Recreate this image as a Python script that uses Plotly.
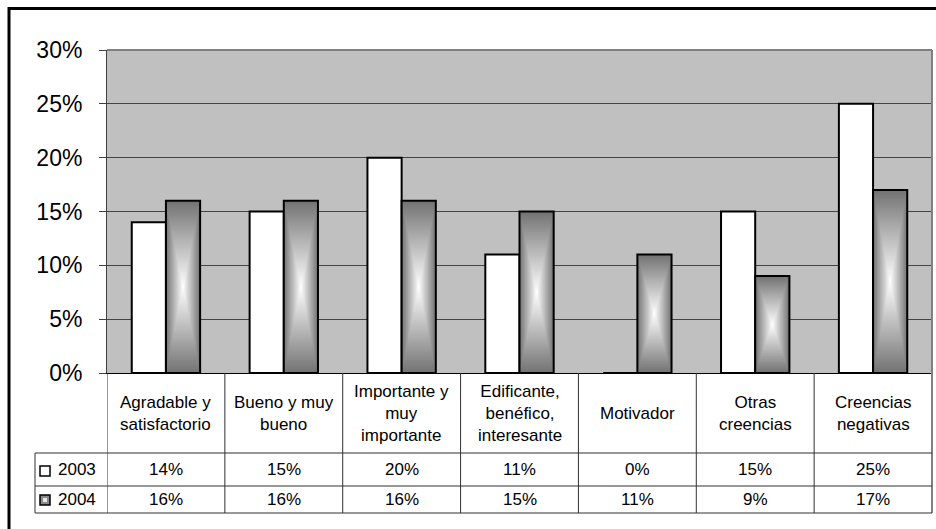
import plotly.graph_objects as go

# Chart data
categories = [
    "Agradable y<br>satisfactorio",
    "Bueno y muy<br>bueno",
    "Importante y<br>muy<br>importante",
    "Edificante,<br>benéfico,<br>interesante",
    "Motivador",
    "Otras<br>creencias",
    "Creencias<br>negativas",
]
series_names = ["2003", "2004"]
values_2003 = [14, 15, 20, 11, 0, 15, 25]   # percent
values_2004 = [16, 16, 16, 15, 11, 9, 17]   # percent
y_ticks = [0, 5, 10, 15, 20, 25, 30]

W, H = 936, 529
FONT = "Liberation Sans, Arial, sans-serif"


def px(x):
    return x / W


def py(y):
    return 1 - y / H


# Layout geometry (pixels)
PLOT_L, PLOT_R, PLOT_T, PLOT_B = 107, 932, 50, 373
ROW1_T, ROW2_T, TABLE_B = 453, 486, 513
LEG_L = 35

BAR_W = 0.29   # bar width in category units

fig = go.Figure()

n = len(categories)
y03 = [v / 100 for v in values_2003]
y04 = [v / 100 for v in values_2004]

# 2003: plain white bars
fig.add_trace(go.Bar(
    x=categories, y=y03, width=[BAR_W] * n, offset=[-BAR_W] * n,
    marker=dict(color="white", line=dict(color="black", width=2)),
    name=series_names[0], showlegend=False, hoverinfo="skip",
))

# 2004: centre-out gradient built from nested bars (dark rim, white core)
LAYERS = 40
edge = 116
for k in range(LAYERS):
    r = 1 - k / LAYERS
    g = int(round(255 - (255 - edge) * r))
    col = f"rgb({g},{g},{g})"
    fig.add_trace(go.Bar(
        x=categories,
        y=[v * r for v in y04],
        base=[v * (1 - r) / 2 for v in y04],
        width=[BAR_W * r] * n,
        offset=[BAR_W / 2 - BAR_W * r / 2] * n,
        marker=dict(color=col, line=dict(width=0)),
        showlegend=False, hoverinfo="skip",
    ))
# outline for the 2004 bars
fig.add_trace(go.Bar(
    x=categories, y=y04, width=[BAR_W] * n, offset=[0] * n,
    marker=dict(color="rgba(0,0,0,0)", line=dict(color="black", width=2)),
    name=series_names[1], showlegend=False, hoverinfo="skip",
))

shapes = []
annotations = []

# Outer chart frame
shapes.append(dict(type="rect", xref="paper", yref="paper",
                   x0=px(9), y0=-0.2, x1=1.2, y1=py(8.5),
                   line=dict(color="black", width=3)))
# Plot area border (top/right)
shapes.append(dict(type="line", xref="paper", yref="paper",
                   x0=px(PLOT_L), x1=px(PLOT_R), y0=py(PLOT_T), y1=py(PLOT_T),
                   line=dict(color="#808080", width=2)))
shapes.append(dict(type="line", xref="paper", yref="paper",
                   x0=px(PLOT_R), x1=px(PLOT_R), y0=py(TABLE_B), y1=py(PLOT_T),
                   line=dict(color="#808080", width=2)))

# Data table grid
tline = dict(color="#303030", width=1)
for yy in (ROW1_T, ROW2_T, TABLE_B):
    shapes.append(dict(type="line", xref="paper", yref="paper",
                       x0=px(LEG_L), x1=px(PLOT_R), y0=py(yy), y1=py(yy), line=tline))
shapes.append(dict(type="line", xref="paper", yref="paper",
                   x0=px(LEG_L), x1=px(LEG_L), y0=py(ROW1_T), y1=py(TABLE_B), line=tline))
for i in range(n):
    shapes.append(dict(type="line", xref="x", yref="paper",
                       x0=i - 0.5, x1=i - 0.5, y0=py(PLOT_B), y1=py(TABLE_B), line=tline))

# Legend keys in the table
shapes.append(dict(type="rect", xref="paper", yref="paper",
                   x0=px(40), x1=px(50), y0=py(476), y1=py(466),
                   fillcolor="white", line=dict(color="black", width=1.5)))
shapes.append(dict(type="rect", xref="paper", yref="paper",
                   x0=px(40), x1=px(50), y0=py(505), y1=py(495),
                   fillcolor="#8a8a8a", line=dict(color="black", width=1.5)))
shapes.append(dict(type="rect", xref="paper", yref="paper",
                   x0=px(43), x1=px(47), y0=py(502), y1=py(498),
                   fillcolor="#e6e6e6", line=dict(width=0)))

tfont = dict(family=FONT, size=17, color="black")
row_y = [(ROW1_T + ROW2_T) / 2, (ROW2_T + TABLE_B) / 2]
for name, yy in zip(series_names, row_y):
    annotations.append(dict(xref="paper", yref="paper", x=px(56), y=py(yy),
                            text=name, showarrow=False, xanchor="left",
                            yanchor="middle", font=tfont))

for i, cat in enumerate(categories):
    annotations.append(dict(xref="x", yref="paper", x=cat, y=py((PLOT_B + ROW1_T) / 2),
                            text=cat, showarrow=False, xanchor="center",
                            yanchor="middle", font=tfont))
    for vals, yy in ((values_2003, row_y[0]), (values_2004, row_y[1])):
        annotations.append(dict(xref="x", yref="paper", x=cat, y=py(yy),
                                text=f"{vals[i]}%", showarrow=False,
                                xanchor="center", yanchor="middle", font=tfont))

fig.update_layout(
    width=W, height=H,
    margin=dict(l=0, r=0, t=0, b=0, autoexpand=False),
    paper_bgcolor="white",
    plot_bgcolor="#C0C0C0",
    barmode="overlay",
    showlegend=False,
    shapes=shapes,
    annotations=annotations,
    xaxis=dict(
        domain=[px(PLOT_L), px(PLOT_R)],
        type="category",
        categoryorder="array", categoryarray=categories,
        range=[-0.5, n - 0.5],
        automargin=False,
        showticklabels=False, ticks="",
        showgrid=False, zeroline=False,
        showline=True, linecolor="black", linewidth=1,
    ),
    yaxis=dict(
        domain=[py(PLOT_B), py(PLOT_T)],
        range=[0, 0.3],
        automargin=False,
        tickvals=[t / 100 for t in y_ticks],
        ticktext=[f"{t}%" for t in y_ticks],
        ticks="outside", ticklen=7, tickcolor="#404040",
        ticklabelstandoff=12,
        tickfont=dict(family=FONT, size=23, color="black"),
        showgrid=True, gridcolor="#454545", gridwidth=1,
        zeroline=False,
        showline=True, linecolor="#404040", linewidth=1,
    ),
)

fig.write_html("out.html")
